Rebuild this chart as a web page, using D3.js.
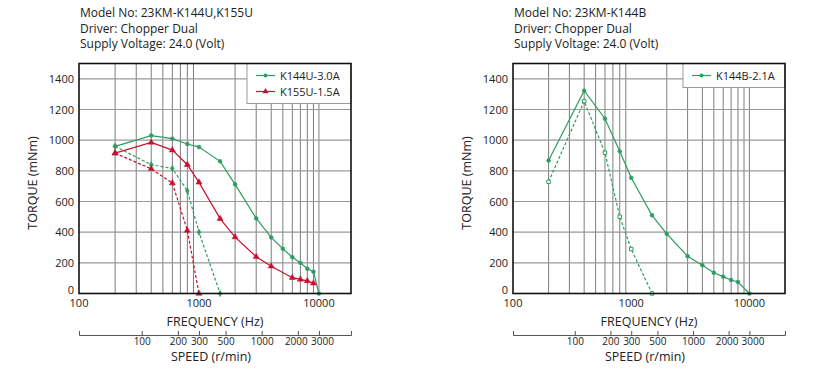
<!DOCTYPE html>
<html>
<head>
<meta charset="utf-8">
<script src="https://cdn.jsdelivr.net/npm/d3@7"></script>
<style>
  body { margin: 0; background: #fff; }
  text { font-family: "Open Sans", "Noto Sans", sans-serif; fill: #222; }
</style>
</head>
<body>
<div id="chart"></div>
<script>
// Pull-out / pull-in torque curves, two motor charts side by side

// left chart: 23KM-K144U, K155U
var titleLeft = ["Model No: 23KM-K144U,K155U", "Driver: Chopper Dual", "Supply Voltage: 24.0 (Volt)"];
var k144uFreq = [200, 400, 600, 800, 1000, 1500, 2000, 3000, 4000, 5000, 6000, 7000, 8000, 9000, 10000];
var k144uOut  = [960, 1030, 1010, 975, 955, 862, 712, 490, 366, 292, 237, 200, 161, 142, 0];
var k144uInFreq = [200, 400, 600, 800, 1000, 1500];
var k144uIn     = [960, 840, 815, 670, 400, 0];
var k155uFreq = [200, 400, 600, 800, 1000, 1500, 2000, 3000, 4000, 6000, 7000, 8000, 9000];
var k155uOut  = [915, 985, 935, 840, 725, 488, 368, 239, 178, 103, 92, 82, 67];
var k155uInFreq = [200, 400, 600, 800, 1000];
var k155uIn     = [915, 813, 720, 411, 0];

// right chart: 23KM-K144B
var titleRight = ["Model No: 23KM-K144B", "Driver: Chopper Dual", "Supply Voltage: 24.0 (Volt)"];
var k144bFreq = [200, 400, 600, 800, 1000, 1500, 2000, 3000, 4000, 5000, 6000, 7000, 8000, 10000];
var k144bOut  = [867, 1323, 1140, 927, 755, 510, 389, 243, 185, 135, 110, 88, 75, 0];
var k144bInFreq = [200, 400, 600, 800, 1000, 1500];
var k144bIn     = [729, 1254, 918, 501, 290, 0];

// axes
var freqTicks = [100, 1000, 10000];
var freqGrid = [200, 300, 400, 500, 600, 700, 800, 900, 2000, 3000, 4000, 5000, 6000, 7000, 8000, 9000, 10000];
var torqueTicks = [0, 200, 400, 600, 800, 1000, 1200, 1400];
var speedTicks = [100, 200, 300, 500, 1000, 2000, 3000];
var rpmPerHz = 0.3; // 1.8 deg step: 200 steps per rev

var green = "#2e9d63", red = "#c8102e";

var svg = d3.select("#chart").append("svg")
    .attr("width", 821)
    .attr("height", 371);

function zip(f, t) { return f.map(function(d, i) { return [d, t[i]]; }); }

function drawPanel(p) {
  var g = svg.append("g");
  var x = d3.scaleLog().domain([100, p.fmax]).range([p.x0, p.x1]);
  var y = d3.scaleLinear().domain([0, 1500]).range([293.5, 63.5]);

  // title block
  g.selectAll(".title").data(p.title).enter().append("text")
      .attr("x", p.x0 + 1)
      .attr("y", function(d, i) { return 17 + i * 15.5; })
      .style("font-size", "12px")
      .text(function(d) { return d; });

  // grid
  g.selectAll(".vgrid").data(freqGrid).enter().append("line")
      .attr("x1", function(d) { return x(d); }).attr("x2", function(d) { return x(d); })
      .attr("y1", y(0)).attr("y2", y(1500))
      .attr("stroke", "#7d7d7d").attr("stroke-width", 1);
  g.selectAll(".hgrid").data(torqueTicks.slice(1)).enter().append("line")
      .attr("x1", p.x0).attr("x2", p.x1)
      .attr("y1", function(d) { return y(d); }).attr("y2", function(d) { return y(d); })
      .attr("stroke", "#9a9a9a").attr("stroke-width", 1.2);

  // tick labels
  g.selectAll(".yt").data(torqueTicks).enter().append("text")
      .attr("x", p.x0 - 5)
      .attr("y", function(d) { return Math.min(y(d) + 4, 294); })
      .attr("text-anchor", "end")
      .style("font-size", "11px")
      .text(function(d) { return d; });
  g.selectAll(".xt").data(freqTicks).enter().append("text")
      .attr("x", function(d) { return x(d); })
      .attr("y", 307)
      .attr("text-anchor", "middle")
      .style("font-size", "11px")
      .text(function(d) { return d; });

  g.append("text")
      .attr("x", (p.x0 + p.x1) / 2).attr("y", 326)
      .attr("text-anchor", "middle")
      .style("font-size", "12.5px")
      .text("FREQUENCY (Hz)");
  g.append("text")
      .attr("transform", "translate(" + (p.x0 - 42) + "," + 183 + ") rotate(-90)")
      .attr("text-anchor", "middle")
      .style("font-size", "12.5px")
      .text("TORQUE (mNm)");

  // speed axis, r/min = Hz * 0.3
  var s = d3.scaleLog().domain([100 * rpmPerHz, p.fmax * rpmPerHz]).range([p.x0, p.x1]);
  var sAxis = g.append("g")
      .attr("transform", "translate(0,335)")
      .call(d3.axisBottom(s).tickValues(speedTicks).tickFormat(d3.format("d"))
            .tickSizeInner(-4).tickSizeOuter(-4).tickPadding(3));
  sAxis.select(".domain").attr("stroke", "#555");
  sAxis.selectAll(".tick line").attr("stroke", "#555");
  sAxis.selectAll(".tick text")
      .style("font-size", "10px")
      .style("font-family", "'Open Sans', 'Noto Sans', sans-serif")
      .attr("fill", "#222")
      .attr("dx", function(d) { return d === 2000 ? -2 : d === 3000 ? 3 : 0; });
  g.append("text")
      .attr("x", (p.x0 + p.x1) / 2 - 4).attr("y", 361)
      .attr("text-anchor", "middle")
      .style("font-size", "12.5px")
      .text("SPEED (r/min)");

  var line = d3.line()
      .x(function(d) { return x(d[0]); })
      .y(function(d) { return y(d[1]); });

  p.series.forEach(function(sr) {
    var pts = zip(sr.f, sr.t);
    g.append("path").datum(pts)
        .attr("d", line)
        .attr("fill", "none")
        .attr("stroke", sr.color)
        .attr("stroke-width", 1.2)
        .attr("stroke-dasharray", sr.dash ? "3,2" : null);
    var sym = d3.symbol().type(sr.symbol).size(sr.symbol === d3.symbolTriangle ? 16 : 12);
    g.selectAll(null).data(pts).enter().append("path")
        .attr("transform", function(d) { return "translate(" + x(d[0]) + "," + y(d[1]) + ")"; })
        .attr("d", sym)
        .attr("fill", sr.open ? "#fff" : sr.color)
        .attr("stroke", sr.color)
        .attr("stroke-width", sr.open ? 1 : 0.5);
  });

  // legend
  var lg = g.append("g");
  var lw = p.x1 - p.legX;
  lg.append("rect")
      .attr("x", p.legX).attr("y", y(1500))
      .attr("width", lw).attr("height", 8 + p.legend.length * 16)
      .attr("fill", "#fff").attr("stroke", "#999").attr("stroke-width", 1);
  p.legend.forEach(function(l, i) {
    var ly = y(1500) + 12 + i * 16;
    lg.append("line")
        .attr("x1", p.legX + 9).attr("x2", p.legX + 28)
        .attr("y1", ly).attr("y2", ly)
        .attr("stroke", l.color).attr("stroke-width", 1.2);
    lg.append("path")
        .attr("transform", "translate(" + (p.legX + 18.5) + "," + ly + ")")
        .attr("d", d3.symbol().type(l.symbol).size(l.symbol === d3.symbolTriangle ? 16 : 12))
        .attr("fill", l.color);
    lg.append("text")
        .attr("x", p.legX + 33).attr("y", ly + 4)
        .style("font-size", "11px")
        .text(l.name);
  });

  // frame
  g.append("rect")
      .attr("x", p.x0).attr("y", y(1500))
      .attr("width", p.x1 - p.x0).attr("height", y(0) - y(1500))
      .attr("fill", "none").attr("stroke", "#111").attr("stroke-width", 1.6);
}

drawPanel({
  x0: 79, x1: 351, fmax: 18500, legX: 247, title: titleLeft,
  series: [
    { f: k144uFreq, t: k144uOut, color: green, symbol: d3.symbolCircle },
    { f: k144uInFreq, t: k144uIn, color: green, symbol: d3.symbolDiamond, dash: true },
    { f: k155uFreq, t: k155uOut, color: red, symbol: d3.symbolTriangle },
    { f: k155uInFreq, t: k155uIn, color: red, symbol: d3.symbolTriangle, dash: true }
  ],
  legend: [
    { name: "K144U-3.0A", color: green, symbol: d3.symbolCircle },
    { name: "K155U-1.5A", color: red, symbol: d3.symbolTriangle }
  ]
});

drawPanel({
  x0: 513, x1: 785, fmax: 20000, legX: 683, title: titleRight,
  series: [
    { f: k144bFreq, t: k144bOut, color: green, symbol: d3.symbolCircle },
    { f: k144bInFreq, t: k144bIn, color: green, symbol: d3.symbolSquare, dash: true, open: true }
  ],
  legend: [
    { name: "K144B-2.1A", color: green, symbol: d3.symbolCircle }
  ]
});
</script>
</body>
</html>
